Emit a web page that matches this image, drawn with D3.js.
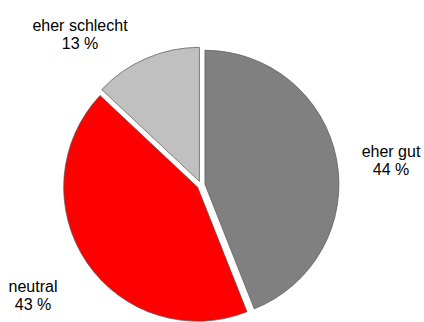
<!DOCTYPE html>
<html>
<head>
<meta charset="utf-8">
<script src="https://cdn.jsdelivr.net/npm/d3@7"></script>
<style>
  body { margin: 0; background: #fff; }
  svg { display: block; }
  text { font-family: "Liberation Sans", Arial, sans-serif; font-size: 16px; fill: #000; }
</style>
</head>
<body>
<div id="chart"></div>
<script>
const categories = ['eher gut', 'neutral', 'eher schlecht'];
const values = [44, 43, 13];
const colors = ['#808080', '#ff0000', '#c0c0c0'];
// label anchors (centre of the two-line label), relative to pie centre
const labelAnchors = [[190, -25], [-168, 110], [-121, -151]];

const width = 424;
const height = 322;
const cx = 201;
const cy = 185;
const radius = 134;
const explode = 4;

const svg = d3.select('#chart')
  .append('svg')
  .attr('width', width)
  .attr('height', height);

const pie = d3.pie()
  .sort(null)
  .value(d => d.value);

const arc = d3.arc()
  .innerRadius(0)
  .outerRadius(radius);

const data = categories.map((c, i) => ({ name: c, value: values[i], color: colors[i] }));
const arcs = pie(data);

const g = svg.append('g')
  .attr('transform', `translate(${cx},${cy})`);

g.selectAll('path')
  .data(arcs)
  .enter()
  .append('path')
  .attr('d', arc)
  .attr('fill', d => d.data.color)
  .attr('stroke', '#555')
  .attr('stroke-width', 0.7)
  .attr('transform', (d) => {
    const a = (d.startAngle + d.endAngle) / 2;
    return `translate(${explode * Math.sin(a)},${-explode * Math.cos(a)})`;
  });

const labels = g.selectAll('g.label')
  .data(arcs)
  .enter()
  .append('g')
  .classed('label', true)
  .attr('transform', (d, i) => `translate(${labelAnchors[i][0]},${labelAnchors[i][1]})`);

labels.append('text')
  .attr('text-anchor', 'middle')
  .attr('y', -3)
  .text(d => d.data.name);

labels.append('text')
  .attr('text-anchor', 'middle')
  .attr('y', 15)
  .text(d => `${d.data.value} %`);
</script>
</body>
</html>
